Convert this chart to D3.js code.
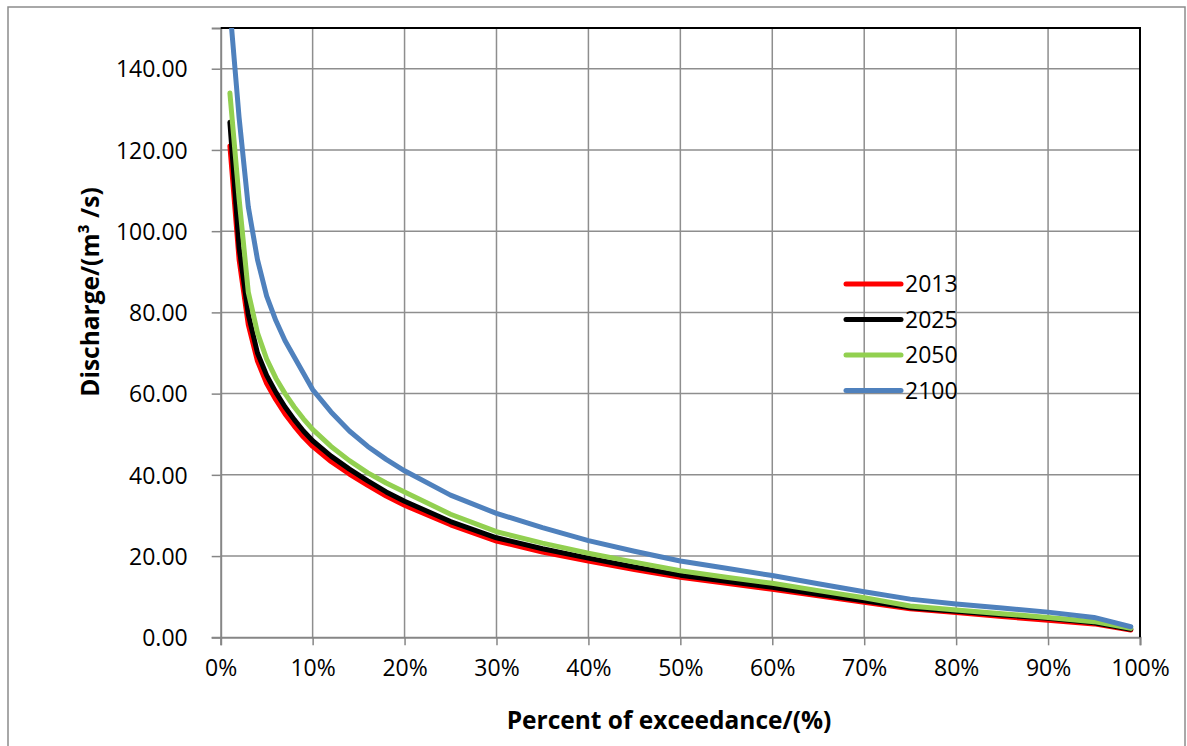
<!DOCTYPE html>
<html>
<head>
<meta charset="utf-8">
<script src="https://cdn.jsdelivr.net/npm/d3@7"></script>
<style>
  body { margin: 0; background: #fff; }
  text { font-family: "Open Sans", "Noto Sans", sans-serif; fill: #000; }
</style>
</head>
<body>
<svg id="chart" width="1187" height="746"></svg>
<script>
// exceedance percentages (x) and discharge per scenario (m3/s)
var pct = [1, 2, 3, 4, 5, 6, 7, 8, 9, 10, 12, 14, 16, 18, 20, 25, 30, 35, 40, 45, 50, 55, 60, 65, 70, 75, 80, 85, 90, 95, 99];
var q2013 = [121, 93, 77, 68, 62.5, 58.5, 55, 52, 49.3, 47, 43.3, 40.2, 37.4, 34.8, 32.5, 27.7, 23.7, 21, 18.8, 16.7, 14.8, 13.3, 11.8, 10.2, 8.6, 7.0, 6.1, 5.1, 4.2, 3.3, 1.8];
var q2025 = [126.8, 96, 79.5, 70, 64.5, 60.3, 56.7, 53.6, 50.8, 48.4, 44.6, 41.4, 38.5, 35.8, 33.5, 28.5, 24.5, 21.8, 19.5, 17.3, 15.3, 13.8, 12.3, 10.6, 9.0, 7.3, 6.4, 5.5, 4.7, 3.6, 2.0];
var q2050 = [134, 108, 85, 75, 68.5, 63.8, 60, 56.7, 53.8, 51.2, 47, 43.5, 40.5, 38, 35.8, 30.3, 26, 23.2, 20.7, 18.5, 16.4, 14.8, 13.3, 11.5, 9.75, 7.7, 6.7, 5.8, 4.9, 3.85, 2.2];
var q2100 = [155, 128, 106, 93, 84, 78, 73, 69, 65, 61, 55.5, 50.8, 47, 43.8, 41, 35, 30.5, 27, 23.8, 21.2, 18.8, 17, 15.2, 13.2, 11.2, 9.4, 8.2, 7.2, 6.2, 4.9, 2.6];

var seriesNames = ["2013", "2025", "2050", "2100"];
var seriesValues = [q2013, q2025, q2050, q2100];
var seriesColors = ["#ff0000", "#000000", "#92d050", "#4f81bd"];

var xTicks = [0, 10, 20, 30, 40, 50, 60, 70, 80, 90, 100];
var yTicks = [0, 20, 40, 60, 80, 100, 120, 140];

var svg = d3.select("#chart");

// outer chart frame
svg.append("rect")
   .attr("x", 8).attr("y", 7)
   .attr("width", 1177).attr("height", 760)
   .style("fill", "none").style("stroke", "#8c8c8c").style("stroke-width", 1.5);

var pLeft = 220.7, pRight = 1140, pTop = 28.1, pBottom = 637.3;

var x = d3.scaleLinear().domain([0, 100]).range([pLeft, pRight]);
var y = d3.scaleLinear().domain([0, 150]).range([pBottom, pTop]);

// grid
var grid = svg.append("g").attr("class", "grid");
grid.selectAll("line.v")
    .data(xTicks.slice(1, -1))
    .enter().append("line")
      .attr("x1", d => x(d)).attr("x2", d => x(d))
      .attr("y1", pTop).attr("y2", pBottom)
      .style("stroke", "#8e8e8e").style("stroke-width", 1.5);
grid.selectAll("line.h")
    .data(yTicks.slice(1))
    .enter().append("line")
      .attr("x1", pLeft).attr("x2", pRight)
      .attr("y1", d => y(d)).attr("y2", d => y(d))
      .style("stroke", "#8e8e8e").style("stroke-width", 1.5);

// axes
var xAxis = svg.append("g")
    .attr("transform", "translate(0," + pBottom + ")")
    .call(d3.axisBottom(x).tickValues(xTicks).tickSize(8).tickPadding(14).tickFormat(d => d + "%"));
var yAxis = svg.append("g")
    .attr("transform", "translate(" + pLeft + ",0)")
    .call(d3.axisLeft(y).tickValues(yTicks).tickSize(9).tickPadding(24).tickFormat(d3.format(".2f")));

[xAxis, yAxis].forEach(function(a) {
  a.select(".domain").style("stroke", "#868686").style("stroke-width", 2);
  a.selectAll(".tick line").style("stroke", "#868686").style("stroke-width", 1.5);
  a.selectAll(".tick text").style("font-size", "23px").style("font-family", "'Open Sans', sans-serif").style("fill", "#000");
});
yAxis.selectAll(".tick text").attr("dy", "0.36em");
xAxis.selectAll(".tick text").attr("dy", "0.71em");

// top and right border of plot area
svg.append("path")
   .attr("d", "M" + pLeft + "," + pTop + "H" + pRight + "V" + pBottom)
   .style("fill", "none").style("stroke", "#000").style("stroke-width", 2);

svg.append("clipPath").attr("id", "plotclip")
   .append("rect").attr("x", pLeft).attr("y", pTop).attr("width", pRight - pLeft).attr("height", pBottom - pTop);

var line = d3.line()
    .x((d, i) => x(pct[i]))
    .y(d => y(d));

svg.append("g").attr("clip-path", "url(#plotclip)")
   .selectAll("path")
   .data(seriesValues)
   .enter().append("path")
     .attr("d", line)
     .style("fill", "none")
     .style("stroke", (d, i) => seriesColors[i])
     .style("stroke-width", 5)
     .style("stroke-linejoin", "round")
     .style("stroke-linecap", "round");

// legend
var legend = svg.append("g").attr("transform", "translate(846,284)");
var item = legend.selectAll("g")
    .data(seriesNames)
    .enter().append("g")
      .attr("transform", (d, i) => "translate(0," + i * 35.5 + ")");
item.append("line")
    .attr("x1", 0).attr("x2", 55)
    .style("stroke", (d, i) => seriesColors[i])
    .style("stroke-width", 5)
    .style("stroke-linecap", "round");
item.append("text")
    .attr("x", 59).attr("dy", "0.36em")
    .style("font-size", "23px")
    .text(d => d);

// axis titles
svg.append("text")
   .attr("x", 669).attr("y", 720).attr("dy", "0.36em")
   .attr("text-anchor", "middle")
   .style("font-size", "24.5px").style("font-weight", "bold")
   .text("Percent of exceedance/(%)");

svg.append("text")
   .attr("transform", "translate(90,292) rotate(-90)")
   .attr("dy", "0.36em")
   .attr("text-anchor", "middle")
   .style("font-size", "24.5px").style("font-weight", "bold")
   .text("Discharge/(m\u00b3 /s)");
</script>
</body>
</html>
